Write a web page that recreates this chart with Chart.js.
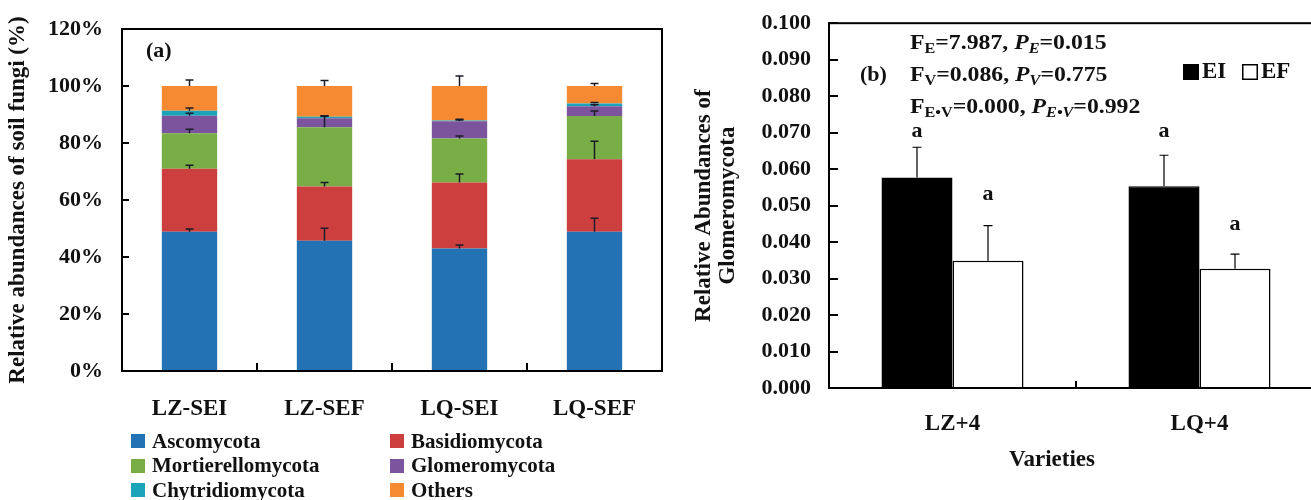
<!DOCTYPE html>
<html>
<head>
<meta charset="utf-8">
<style>
  html, body { margin: 0; padding: 0; background: #fff; overflow: hidden; width: 1311px; height: 500px; }
  #left { position: absolute; left: 0; top: 0; width: 680px; height: 500px; }
  #right { position: absolute; left: 680px; top: 0; width: 660px; height: 500px; }
  #legendA { position: absolute; left: 0; top: 0; font: bold 21px 'Liberation Serif', 'Times New Roman', serif; color: #111; }
  .item { position: absolute; white-space: nowrap; display: flex; align-items: center; height: 24px; }
  .box { width: 14px; height: 14px; margin-right: 7px; }
</style>
<script src="https://cdn.jsdelivr.net/npm/chart.js"></script>
</head>
<body>
<div id="left"><canvas id="chartA"></canvas></div>
<div id="right"><canvas id="chartB"></canvas></div>
<div id="legendA"></div>
<script>
// ---- panel (a): stacked relative abundances (%) ----
const treatments = ['LZ-SEI', 'LZ-SEF', 'LQ-SEI', 'LQ-SEF'];
const phyla = ['Ascomycota', 'Basidiomycota', 'Mortierellomycota', 'Glomeromycota', 'Chytridiomycota', 'Others'];
const ascomycota        = [48.9, 45.7, 43.0, 48.9];
const basidiomycota     = [22.1, 19.0, 23.1, 25.4];
const mortierellomycota = [12.4, 20.8, 15.5, 15.2];
const glomeromycota     = [6.2, 3.2, 6.0, 3.4];
const chytridiomycota   = [1.7, 0.5, 0.3, 1.0];
const others            = [8.7, 10.8, 12.1, 6.1];
// standard errors (drawn upward from each segment top)
const ascomycotaErr        = [0.9, 4.4, 1.2, 4.7];
const basidiomycotaErr     = [1.2, 1.4, 3.0, 6.3];
const mortierellomycotaErr = [1.4, 4.1, 0.9, 1.7];
const glomeromycotaErr     = [0.8, 0.8, 0.7, 0.5];
const chytridiomycotaErr   = [1.0, 0.3, 0.2, 0.3];
const othersErr            = [2.1, 1.9, 3.5, 0.9];
const pctTicks = [0, 20, 40, 60, 80, 100, 120];

// ---- panel (b): Glomeromycota ----
const varieties = ['LZ+4', 'LQ+4'];
const groups = ['EI', 'EF'];
const glomEI = [0.0577, 0.0553];
const glomEF = [0.0349, 0.0327];
const glomEIErr = [0.0083, 0.0085];
const glomEFErr = [0.0096, 0.0040];
const glomLetterEI = ['a', 'a'];
const glomLetterEF = ['a', 'a'];

const SERIF = "'Liberation Serif', 'Times New Roman', serif";
const INK = '#111';
const phylaColors = ['#2372b4', '#cd3f3e', '#79ad45', '#7b549d', '#1aa3b9', '#f58a33'];
const phylaValues = [ascomycota, basidiomycota, mortierellomycota, glomeromycota, chytridiomycota, others];
const phylaErrors = [ascomycotaErr, basidiomycotaErr, mortierellomycotaErr, glomeromycotaErr, chytridiomycotaErr, othersErr];

// error bars: line from segment top up to top+err, with a cap
const errorBarPlugin = {
  id: 'errorBars',
  afterDatasetsDraw(chart, args, opts) {
    const ctx = chart.ctx;
    const y = chart.scales.y;
    ctx.save();
    ctx.strokeStyle = opts.color;
    ctx.lineWidth = opts.lineWidth;
    chart.data.datasets.forEach((ds, k) => {
      if (!ds.errorBars) return;
      const meta = chart.getDatasetMeta(k);
      meta.data.forEach((el, i) => {
        const e = ds.errorBars[i];
        const top = el.y - (y.getPixelForValue(0) - y.getPixelForValue(e));
        ctx.beginPath();
        ctx.moveTo(el.x, el.y);
        ctx.lineTo(el.x, top);
        ctx.moveTo(el.x - opts.cap / 2, top);
        ctx.lineTo(el.x + opts.cap / 2, top);
        ctx.stroke();
      });
    });
    ctx.restore();
  }
};

// frame + inward tick marks
const framePlugin = {
  id: 'frame',
  afterDraw(chart, args, opts) {
    const ctx = chart.ctx;
    const a = chart.chartArea;
    const x = chart.scales.x, y = chart.scales.y;
    ctx.save();
    ctx.strokeStyle = '#000';
    ctx.lineWidth = 2;
    ctx.strokeRect(a.left, a.top, a.right - a.left, a.bottom - a.top);
    ctx.beginPath();
    y.ticks.forEach(t => {
      const py = Math.round(y.getPixelForValue(t.value));
      ctx.moveTo(a.left, py);
      ctx.lineTo(a.left + opts.yTick, py);
    });
    for (let i = 0; i < x.ticks.length - 1; i++) {
      const px = Math.round(x.getPixelForValue(i + 0.5));
      ctx.moveTo(px, a.bottom);
      ctx.lineTo(px, a.bottom - opts.xTick);
    }
    ctx.stroke();
    ctx.restore();
  }
};

// ---------- chart (a) ----------
new Chart(document.getElementById('chartA'), {
  type: 'bar',
  data: {
    labels: treatments,
    datasets: phyla.map((name, k) => ({
      label: name,
      data: phylaValues[k],
      errorBars: phylaErrors[k],
      backgroundColor: phylaColors[k],
      borderWidth: 0,
      barPercentage: 0.41,
      categoryPercentage: 1
    }))
  },
  options: {
    responsive: true,
    maintainAspectRatio: false,
    animation: false,
    layout: { padding: { top: 29, right: 18, left: 0, bottom: 0 } },
    plugins: {
      legend: { display: false },
      tooltip: { enabled: false },
      errorBars: { color: '#1c1c2a', lineWidth: 1.5, cap: 8 },
      frame: { yTick: 7, xTick: 8 },
      label: { text: '(a)', x: 146, y: 51 }
    },
    scales: {
      x: {
        stacked: true,
        grid: { display: false },
        border: { color: '#000', width: 2 },
        ticks: { color: INK, font: { family: SERIF, weight: 'bold', size: 23 }, padding: 16 },
        afterFit: s => { s.height = 129; }
      },
      y: {
        stacked: true,
        min: 0, max: 120,
        grid: { display: false },
        border: { color: '#000', width: 2 },
        afterBuildTicks: s => { s.ticks = pctTicks.map(v => ({ value: v })); },
        ticks: { color: INK, font: { family: SERIF, weight: 'bold', size: 22 }, padding: 11, callback: v => v + '%' },
        title: {
          display: true, text: 'Relative abundances of soil fungi (%)', color: INK,
          font: { family: SERIF, weight: 'bold', size: 23, lineHeight: 1.05 }, padding: { top: 6, bottom: 0 }
        },
        afterFit: s => { s.width = 122; }
      }
    }
  },
  plugins: [errorBarPlugin, framePlugin, {
    id: 'label',
    afterDraw(chart, args, opts) {
      const ctx = chart.ctx;
      ctx.save();
      ctx.fillStyle = INK;
      ctx.font = 'bold 22px ' + SERIF;
      ctx.textBaseline = 'middle';
      ctx.fillText(opts.text, opts.x, opts.y);
      ctx.restore();
    }
  }]
});

// html legend for (a), two columns
const legendA = document.getElementById('legendA');
phyla.forEach((name, k) => {
  const it = document.createElement('div');
  it.className = 'item';
  it.style.left = (k % 2 === 0 ? 131 : 390) + 'px';
  it.style.top = (429 + Math.floor(k / 2) * 24.5) + 'px';
  it.innerHTML = '<span class="box" style="background:' + phylaColors[k] + '"></span><span>' + name + '</span>';
  legendA.appendChild(it);
});

// ---------- chart (b) ----------
function drawRich(ctx, parts, x, y, stretch) {
  ctx.save();
  ctx.translate(x, y);
  ctx.scale(stretch, 1);
  let cx = 0;
  parts.forEach(p => {
    const size = p.sub ? 15 : 22;
    ctx.font = (p.it ? 'italic ' : '') + 'bold ' + size + 'px ' + SERIF;
    ctx.fillText(p.t, cx, p.sub ? 6 : 0);
    cx += ctx.measureText(p.t).width;
  });
  ctx.restore();
}

const annotB = {
  id: 'annotB',
  afterDraw(chart) {
    const ctx = chart.ctx;
    const y = chart.scales.y;
    ctx.save();
    ctx.fillStyle = INK;
    ctx.textBaseline = 'middle';
    ctx.font = 'bold 22px ' + SERIF;
    ctx.fillText('(b)', 180, 75);
    const lines = [
      [{ t: 'F' }, { t: 'E', sub: true }, { t: '=7.987, ' }, { t: 'P', it: true }, { t: 'E', sub: true, it: true }, { t: '=0.015' }],
      [{ t: 'F' }, { t: 'V', sub: true }, { t: '=0.086, ' }, { t: 'P', it: true }, { t: 'V', sub: true, it: true }, { t: '=0.775' }],
      [{ t: 'F' }, { t: 'E\u2022V', sub: true }, { t: '=0.000, ' }, { t: 'P', it: true }, { t: 'E\u2022V', sub: true, it: true }, { t: '=0.992' }]
    ];
    lines.forEach((l, i) => drawRich(ctx, l, 230, 43 + i * 32, 1.08));

    // significance letters
    ctx.textAlign = 'center';
    ctx.font = 'bold 22px ' + SERIF;
    const letterAt = [[0.0705, 0.0705], [0.053, 0.045]];
    [glomLetterEI, glomLetterEF].forEach((letters, k) => {
      chart.getDatasetMeta(k).data.forEach((el, i) => {
        ctx.fillText(letters[i], el.x, y.getPixelForValue(letterAt[k][i]));
      });
    });

    // x-axis title, centred under the visible panel
    ctx.font = 'bold 23px ' + SERIF;
    ctx.fillText('Varieties', 372, 460);

    // legend: filled / open squares
    ctx.textAlign = 'left';
    let lx = 503;
    chart.data.datasets.forEach(ds => {
      ctx.fillStyle = ds.backgroundColor;
      ctx.strokeStyle = '#000';
      ctx.lineWidth = 1.5;
      ctx.fillRect(lx, 64, 16, 16);
      ctx.strokeRect(lx + 0.75, 64.75, 14.5, 14.5);
      ctx.fillStyle = INK;
      ctx.font = 'bold 23px ' + SERIF;
      ctx.fillText(ds.label, lx + 19, 72);
      lx += 59;
    });
    ctx.restore();
  }
};

new Chart(document.getElementById('chartB'), {
  type: 'bar',
  data: {
    labels: varieties,
    datasets: [
      { label: groups[0], data: glomEI, errorBars: glomEIErr, backgroundColor: '#000', borderColor: '#000', borderWidth: 1.5, barPercentage: 1, categoryPercentage: 0.575 },
      { label: groups[1], data: glomEF, errorBars: glomEFErr, backgroundColor: '#fff', borderColor: '#000', borderWidth: 1.5, barPercentage: 1, categoryPercentage: 0.575 }
    ]
  },
  options: {
    responsive: true,
    maintainAspectRatio: false,
    animation: false,
    layout: { padding: { top: 22, right: 17, left: 0, bottom: 0 } },
    plugins: {
      legend: { display: false },
      tooltip: { enabled: false },
      errorBars: { color: '#000', lineWidth: 1.2, cap: 9 },
      frame: { yTick: 9, xTick: 7 }
    },
    scales: {
      x: {
        grid: { display: false },
        border: { color: '#000', width: 2 },
        ticks: { color: INK, font: { family: SERIF, weight: 'bold', size: 23 }, padding: 14 },
        afterFit: s => { s.height = 112; }
      },
      y: {
        min: 0, max: 0.1,
        grid: { display: false },
        border: { color: '#000', width: 2 },
        ticks: { stepSize: 0.01, color: INK, font: { family: SERIF, weight: 'bold', size: 22 }, padding: 10, callback: v => v.toFixed(3) },
        title: {
          display: true, text: ['Relative Abundances of', 'Glomeromycota'], color: INK,
          font: { family: SERIF, weight: 'bold', size: 23, lineHeight: 1.05 }, padding: { top: 12, bottom: 0 }
        },
        afterFit: s => { s.width = 149; }
      }
    }
  },
  plugins: [errorBarPlugin, framePlugin, annotB]
});
</script>
</body>
</html>
